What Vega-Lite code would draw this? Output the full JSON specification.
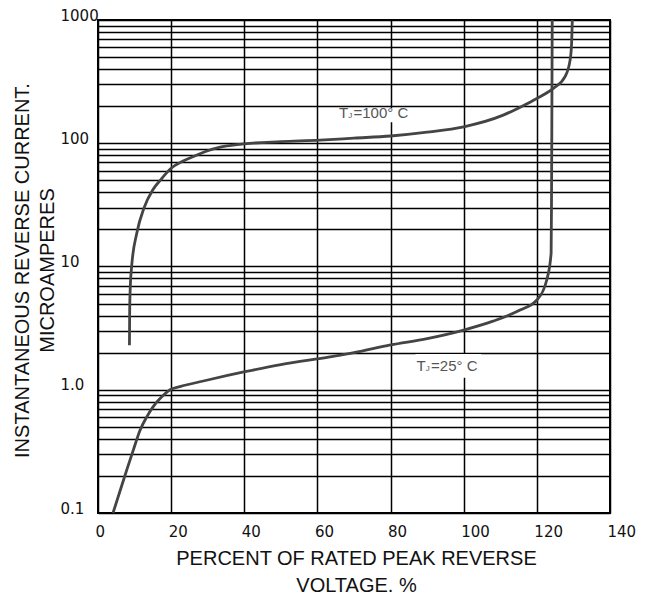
{
  "$schema": "https://vega.github.io/schema/vega-lite/v6.json",
  "width": 512,
  "height": 493,
  "autosize": {"type": "none"},
  "padding": {"left": 98, "top": 20, "right": 44, "bottom": 82},
  "background": "white",
  "config": {
    "view": {"stroke": "#000", "strokeWidth": 2},
    "axis": {"gridColor": "#000", "gridOpacity": 1, "gridWidth": 1.5, "domain": false, "ticks": false, "tickSize": 0}
  },
  "datasets": {
    "curves": [
      {"series": "100", "i": 1, "pct": 8.6, "current": 2.3},
      {"series": "100", "i": 2, "pct": 8.65, "current": 4},
      {"series": "100", "i": 3, "pct": 8.8, "current": 6.5},
      {"series": "100", "i": 4, "pct": 9.2, "current": 10},
      {"series": "100", "i": 5, "pct": 10.6, "current": 18.6},
      {"series": "100", "i": 6, "pct": 12.6, "current": 30},
      {"series": "100", "i": 7, "pct": 15, "current": 42},
      {"series": "100", "i": 8, "pct": 17, "current": 50},
      {"series": "100", "i": 9, "pct": 20, "current": 62.7},
      {"series": "100", "i": 10, "pct": 23, "current": 71},
      {"series": "100", "i": 11, "pct": 26.1, "current": 78},
      {"series": "100", "i": 12, "pct": 30, "current": 87},
      {"series": "100", "i": 13, "pct": 35.2, "current": 95},
      {"series": "100", "i": 14, "pct": 40, "current": 99},
      {"series": "100", "i": 15, "pct": 50, "current": 103},
      {"series": "100", "i": 16, "pct": 60.7, "current": 106},
      {"series": "100", "i": 17, "pct": 70, "current": 110},
      {"series": "100", "i": 18, "pct": 80, "current": 114.5},
      {"series": "100", "i": 19, "pct": 90, "current": 123},
      {"series": "100", "i": 20, "pct": 100, "current": 136},
      {"series": "100", "i": 21, "pct": 110.8, "current": 169},
      {"series": "100", "i": 22, "pct": 116, "current": 200},
      {"series": "100", "i": 23, "pct": 120, "current": 231},
      {"series": "100", "i": 24, "pct": 124.5, "current": 279},
      {"series": "100", "i": 25, "pct": 127.7, "current": 347},
      {"series": "100", "i": 26, "pct": 129.1, "current": 475},
      {"series": "100", "i": 27, "pct": 129.5, "current": 646},
      {"series": "100", "i": 28, "pct": 129.7, "current": 1000},
      {"series": "25", "i": 1, "pct": 4.1, "current": 0.1},
      {"series": "25", "i": 2, "pct": 6, "current": 0.15},
      {"series": "25", "i": 3, "pct": 8, "current": 0.23},
      {"series": "25", "i": 4, "pct": 9.65, "current": 0.324},
      {"series": "25", "i": 5, "pct": 11.5, "current": 0.47},
      {"series": "25", "i": 6, "pct": 13.3, "current": 0.6},
      {"series": "25", "i": 7, "pct": 15.1, "current": 0.73},
      {"series": "25", "i": 8, "pct": 17.5, "current": 0.88},
      {"series": "25", "i": 9, "pct": 19.7, "current": 1.0},
      {"series": "25", "i": 10, "pct": 22.4, "current": 1.06},
      {"series": "25", "i": 11, "pct": 30, "current": 1.2},
      {"series": "25", "i": 12, "pct": 40.2, "current": 1.4},
      {"series": "25", "i": 13, "pct": 50, "current": 1.6},
      {"series": "25", "i": 14, "pct": 63.4, "current": 1.85},
      {"series": "25", "i": 15, "pct": 70, "current": 2.0},
      {"series": "25", "i": 16, "pct": 80, "current": 2.31},
      {"series": "25", "i": 17, "pct": 90, "current": 2.6},
      {"series": "25", "i": 18, "pct": 100, "current": 3.05},
      {"series": "25", "i": 19, "pct": 108, "current": 3.6},
      {"series": "25", "i": 20, "pct": 115.4, "current": 4.43},
      {"series": "25", "i": 21, "pct": 120, "current": 5.35},
      {"series": "25", "i": 22, "pct": 122.7, "current": 7.77},
      {"series": "25", "i": 23, "pct": 123.9, "current": 12.8},
      {"series": "25", "i": 24, "pct": 124.0, "current": 30},
      {"series": "25", "i": 25, "pct": 124.1, "current": 150},
      {"series": "25", "i": 26, "pct": 124.2, "current": 1000}
    ],
    "labels": [
      {"series": "100", "pct": 65.9, "current": 176, "rest": "=100° C", "pct1": 65.5, "pct2": 86, "c1": 148, "c2": 192},
      {"series": "25", "pct": 87.1, "current": 1.558, "rest": "=25° C", "pct1": 86.8, "pct2": 104.8, "c1": 1.25, "c2": 1.95}
    ]
  },
  "layer": [
    {
      "data": {"name": "labels"},
      "mark": {"type": "rect", "fill": "white"},
      "encoding": {
        "x": {"field": "pct1", "type": "quantitative", "scale": {"domain": [0, 140], "nice": false, "zero": false},
          "axis": {
            "values": [0, 20, 40, 60, 80, 100, 120, 140],
            "grid": true,
            "labelAlign": "left",
            "labelBaseline": "top",
            "labelPadding": 11,
            "labelOffset": -3,
            "labelFont": "DejaVu Sans",
            "labelFontSize": 15,
            "labelColor": "#111",
            "labelFlush": false,
            "labelBound": false,
            "labelOverlap": false,
            "title": ["PERCENT OF RATED PEAK REVERSE", "VOLTAGE. %"],
            "titleFont": "Liberation Sans",
            "titleFontSize": 20,
            "titleFontWeight": "normal",
            "titleColor": "#111",
            "titleX": 258,
            "titleY": 45,
            "titleAlign": "center",
            "titleBaseline": "middle",
            "titleLineHeight": 27
          }
        },
        "x2": {"field": "pct2"},
        "y": {"field": "c1", "type": "quantitative", "scale": {"type": "log", "domain": [0.1, 1000], "nice": false},
          "axis": {
            "values": [0.1, 0.2, 0.3, 0.4, 0.5, 0.6, 0.7, 0.8, 0.9, 1, 2, 3, 4, 5, 6, 7, 8, 9, 10, 20, 30, 40, 50, 60, 70, 80, 90, 100, 200, 300, 400, 500, 600, 700, 800, 900, 1000],
            "grid": true,
            "labelExpr": "datum.value == 0.1 ? '0.1' : datum.value == 1 ? '1.0' : (datum.value == 10 || datum.value == 100 || datum.value == 1000) ? format(datum.value, 'd') : ''",
            "labelAlign": "left",
            "labelBaseline": "alphabetic",
            "labelPadding": 38,
            "labelFont": "DejaVu Sans",
            "labelFontSize": 15,
            "labelColor": "#111",
            "labelFlush": false,
            "labelBound": false,
            "labelOverlap": false,
            "title": ["INSTANTANEOUS REVERSE CURRENT.", "MICROAMPERES"],
            "titleFont": "Liberation Sans",
            "titleFontSize": 20,
            "titleFontWeight": "normal",
            "titleColor": "#111",
            "titleX": -75.5,
            "titleY": 250,
            "titleAngle": -90,
            "titleAlign": "center",
            "titleBaseline": "middle",
            "titleLineHeight": 25
          }
        },
        "y2": {"field": "c2"}
      }
    },
    {
      "data": {"name": "curves"},
      "mark": {"type": "line", "color": "#444444", "strokeWidth": 2.8, "interpolate": "monotone"},
      "encoding": {
        "x": {"field": "pct", "type": "quantitative"},
        "y": {"field": "current", "type": "quantitative"},
        "detail": {"field": "series"},
        "order": {"field": "i", "type": "quantitative"}
      }
    },
    {
      "data": {"name": "labels"},
      "mark": {"type": "text", "text": "T", "align": "left", "baseline": "middle", "font": "Liberation Sans", "fontSize": 15, "color": "#555"},
      "encoding": {
        "x": {"field": "pct", "type": "quantitative"},
        "y": {"field": "current", "type": "quantitative"}
      }
    },
    {
      "data": {"name": "labels"},
      "mark": {"type": "text", "text": "J", "align": "left", "baseline": "middle", "font": "Liberation Sans", "fontSize": 8, "dx": 9.3, "dy": 3, "color": "#555"},
      "encoding": {
        "x": {"field": "pct", "type": "quantitative"},
        "y": {"field": "current", "type": "quantitative"}
      }
    },
    {
      "data": {"name": "labels"},
      "mark": {"type": "text", "align": "left", "baseline": "middle", "font": "Liberation Sans", "fontSize": 15, "dx": 14.5, "color": "#555"},
      "encoding": {
        "x": {"field": "pct", "type": "quantitative"},
        "y": {"field": "current", "type": "quantitative"},
        "text": {"field": "rest"}
      }
    }
  ]
}
